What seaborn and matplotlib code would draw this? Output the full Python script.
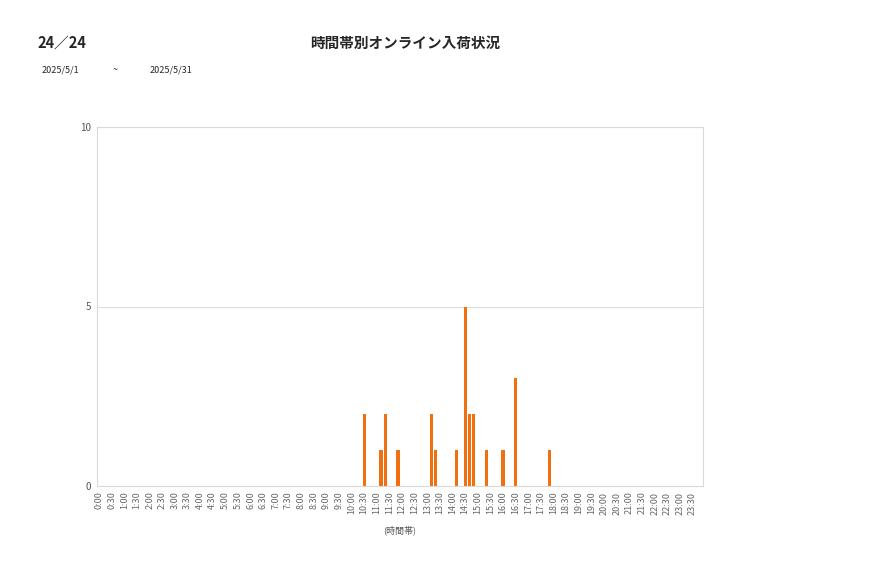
import pandas as pd
import matplotlib
matplotlib.use('Agg')
import matplotlib.pyplot as plt
import seaborn as sns

# 10-minute time slots, 0:00 .. 23:50
time_slots = [f'{h}:{m:02d}' for h in range(24) for m in range(0, 60, 10)]

# slots with arrivals
busy_slots = ['10:30', '11:10', '11:20', '11:50', '13:10', '13:20', '14:10',
              '14:30', '14:40', '14:50', '15:20', '16:00', '16:30', '17:50']
busy_counts = [2, 1, 2, 1, 2, 1, 1, 5, 2, 2, 1, 1, 3, 1]

y_ticks = [0, 5, 10]

counts = dict(zip(busy_slots, busy_counts))
data = pd.DataFrame({'slot': time_slots,
                     'count': [counts.get(s, 0) for s in time_slots]})

sns.set_theme(style='white')
plt.rcParams['font.family'] = ['Noto Sans CJK JP', 'DejaVu Sans']

fig = plt.figure(figsize=(8.77, 5.78), dpi=100)
ax = fig.add_axes([97 / 877, 1 - 486 / 578, 606 / 877, 359 / 578])

sns.barplot(data=data, x='slot', y='count', order=time_slots,
            color='#F0700F', saturation=1, width=0.8, ax=ax,
            edgecolor='#F0700F', linewidth=0)

# labels every 30 minutes
label_pos = list(range(0, len(time_slots), 3))
ax.set_xticks(label_pos)
ax.set_xticklabels([time_slots[i] for i in label_pos], rotation=90,
                   fontsize=6.5, color='#666666')
ax.set_xlim(-0.5, len(time_slots) - 0.5)

ax.set_ylim(0, 10)
ax.set_yticks(y_ticks)
ax.set_yticklabels([str(v) for v in y_ticks], fontsize=7, color='#555555')
ax.yaxis.grid(True, color='#DDDDDD', linewidth=0.8)
ax.set_axisbelow(True)
ax.tick_params(axis='both', length=0, pad=4)

for side in ['left', 'right', 'top', 'bottom']:
    ax.spines[side].set_color('#D9D9D9')
    ax.spines[side].set_linewidth(0.8)

ax.set_xlabel('(時間帯)', fontsize=6.5, color='#555555', labelpad=8)
ax.set_ylabel('')

fig.text(37 / 877, 1 - 43 / 578, '24／24', fontsize=10.5, fontweight='bold',
         va='center', ha='left')
fig.text(405 / 877, 1 - 43 / 578, '時間帯別オンライン入荷状況', fontsize=10.5,
         fontweight='bold', va='center', ha='center')
fig.text(42 / 877, 1 - 70 / 578, '2025/5/1', fontsize=6.5, va='center', ha='left')
fig.text(115 / 877, 1 - 70 / 578, '~', fontsize=6.5, va='center', ha='center')
fig.text(150 / 877, 1 - 70 / 578, '2025/5/31', fontsize=6.5, va='center', ha='left')

fig.savefig('out.png', dpi=100, facecolor='white')
